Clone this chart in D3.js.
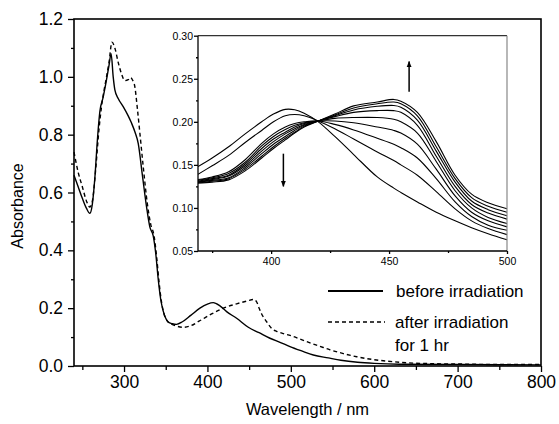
<!DOCTYPE html>
<html><head><meta charset="utf-8">
<script src="https://cdn.jsdelivr.net/npm/d3@7"></script>
<style>body{margin:0;background:#fff}svg{display:block}text{font-family:"Liberation Sans",Arial,sans-serif}</style>
</head><body><svg id="c" width="559" height="424"></svg>
<script>
// Main spectra
const wlBefore = [240,245,250,255,259,262,265,268,271,275,279,282,284.5,287,289,293,299,305,309,313,317,322,327,331,335,338,341,344,347,350,353,358,363,370,380,391,400,407,415,423,435,449,462,475,487,499,513,527,545,560,580,600,630,700,800];
const absBefore = [0.66,0.62,0.58,0.545,0.528,0.56,0.65,0.78,0.88,0.93,0.99,1.04,1.08,1.0,0.955,0.925,0.897,0.865,0.84,0.81,0.77,0.66,0.55,0.48,0.45,0.39,0.30,0.23,0.19,0.165,0.152,0.146,0.144,0.153,0.175,0.20,0.214,0.219,0.208,0.188,0.165,0.134,0.115,0.096,0.082,0.067,0.052,0.038,0.028,0.020,0.013,0.009,0.006,0.005,0.004];
const wlAfter = [240,245,250,255,259,262,266,270,273,279,282,285.5,289,293,297,301,305,308,310,313,316,319,323,328,332,336,339,342,345,348,352,357,363,371,379,390,405,419,435,448,455,459,462,465,471,477,483,490,500,512,523,535,547,563,579,597,615,640,670,700,750,800];
const absAfter = [0.74,0.67,0.62,0.57,0.55,0.57,0.68,0.82,0.897,1.0,1.05,1.12,1.10,1.05,1.01,0.987,0.99,0.998,0.99,0.965,0.89,0.805,0.69,0.56,0.49,0.45,0.38,0.29,0.22,0.18,0.155,0.145,0.138,0.134,0.138,0.155,0.18,0.20,0.215,0.225,0.23,0.222,0.20,0.18,0.153,0.13,0.12,0.113,0.105,0.092,0.080,0.068,0.056,0.043,0.032,0.023,0.017,0.011,0.008,0.007,0.005,0.005];

// Inset spectra (irradiation series)
const insetWl = [369,375,382,389,396,401,406,410,414,420,427,435,445,452,455,462,470,478,485,492,500];
const s0 = [0.148,0.158,0.171,0.186,0.200,0.209,0.2145,0.214,0.210,0.200,0.183,0.162,0.136,0.123,0.118,0.107,0.095,0.085,0.077,0.070,0.063];
const s1 = [0.139,0.149,0.161,0.176,0.190,0.200,0.207,0.2085,0.207,0.201,0.192,0.180,0.165,0.155,0.150,0.138,0.119,0.099,0.085,0.076,0.069];
const s2 = [0.133,0.136,0.142,0.156,0.175,0.186,0.194,0.198,0.200,0.201,0.197,0.1906,0.181,0.174,0.170,0.158,0.134,0.107,0.090,0.080,0.074];
const s3 = [0.132,0.135,0.140,0.153,0.172,0.183,0.191,0.196,0.199,0.201,0.201,0.199,0.194,0.190,0.187,0.174,0.145,0.114,0.095,0.085,0.078];
const s4 = [0.131,0.134,0.138,0.151,0.169,0.180,0.188,0.194,0.198,0.201,0.204,0.205,0.205,0.203,0.200,0.187,0.154,0.120,0.100,0.089,0.082];
const s5 = [0.130,0.133,0.137,0.149,0.166,0.177,0.186,0.192,0.197,0.201,0.206,0.211,0.213,0.213,0.211,0.196,0.160,0.125,0.104,0.094,0.087];
const s6 = [0.130,0.132,0.135,0.147,0.163,0.174,0.183,0.190,0.196,0.201,0.207,0.2138,0.218,0.219,0.217,0.202,0.166,0.130,0.108,0.098,0.091];
const s7 = [0.129,0.131,0.134,0.145,0.160,0.171,0.181,0.188,0.195,0.201,0.208,0.2161,0.221,0.223,0.221,0.207,0.171,0.134,0.112,0.102,0.095];
const s8 = [0.129,0.130,0.1326,0.143,0.158,0.169,0.179,0.187,0.194,0.201,0.209,0.2185,0.223,0.226,0.224,0.211,0.177,0.138,0.116,0.106,0.099];
const insetSeries = [s0,s1,s2,s3,s4,s5,s6,s7,s8];

const xMajor = [300,400,500,600,700,800];
const xMinor = [250,350,450,550,650,750];
const yMajor = [0,0.2,0.4,0.6,0.8,1.0,1.2];
const yMinor = [0.1,0.3,0.5,0.7,0.9,1.1];
const inXMajor = [400,450,500];
const inXMinor = [375,425,475];
const inYMajor = [0.05,0.10,0.15,0.20,0.25,0.30];
const inYMinor = [0.075,0.125,0.175,0.225,0.275];
const legendLabels = ["before irradiation","after irradiation","for 1 hr"];

const svg = d3.select("#c");
const L=74, R=541, T=19, B=366;
const x = d3.scaleLinear().domain([240,800]).range([L,R]);
const y = d3.scaleLinear().domain([0,1.2]).range([B,T]);

function styleAxis(g, fs){
  g.select(".domain").remove();
  g.selectAll("line").attr("stroke","#000").attr("stroke-width",1.3);
  g.selectAll("text").attr("font-size",fs).attr("fill","#000");
}

// main curves
const line = d3.line().x(d=>x(d[0])).y(d=>y(d[1])).curve(d3.curveMonotoneX);
svg.append("path").datum(wlBefore.map((w,i)=>[w,absBefore[i]]))
  .attr("d",line).attr("fill","none").attr("stroke","#000").attr("stroke-width",1.4);
svg.append("path").datum(wlAfter.map((w,i)=>[w,absAfter[i]]))
  .attr("d",line).attr("fill","none").attr("stroke","#000").attr("stroke-width",1.4).attr("stroke-dasharray","4,3");

// main axes
const gx = svg.append("g").attr("transform",`translate(0,${B})`)
  .call(d3.axisBottom(x).tickValues(xMajor).tickSize(6).tickPadding(4).tickFormat(d3.format("d")));
styleAxis(gx,17.5);
const gxm = svg.append("g").attr("transform",`translate(0,${B})`)
  .call(d3.axisBottom(x).tickValues(xMinor).tickSize(4).tickFormat(""));
styleAxis(gxm,17.5);
const gy = svg.append("g").attr("transform",`translate(${L},0)`)
  .call(d3.axisLeft(y).tickValues(yMajor).tickSize(6).tickPadding(5).tickFormat(d3.format(".1f")));
styleAxis(gy,17.5);
const gym = svg.append("g").attr("transform",`translate(${L},0)`)
  .call(d3.axisLeft(y).tickValues(yMinor).tickSize(3).tickFormat(""));
styleAxis(gym,17.5);
svg.append("rect").attr("x",L).attr("y",T).attr("width",R-L).attr("height",B-T)
  .attr("fill","none").attr("stroke","#000").attr("stroke-width",1.6);

svg.append("text").attr("x",(L+R)/2).attr("y",415).attr("text-anchor","middle")
  .attr("font-size",16.5).text("Wavelength / nm");
svg.append("text").attr("transform","translate(23,206) rotate(-90)").attr("text-anchor","middle")
  .attr("font-size",16).text("Absorbance");

// legend
svg.append("line").attr("x1",328).attr("x2",383).attr("y1",291).attr("y2",291).attr("stroke","#000").attr("stroke-width",2);
svg.append("line").attr("x1",328).attr("x2",385).attr("y1",322).attr("y2",322).attr("stroke","#000").attr("stroke-width",1.4).attr("stroke-dasharray","4,3");
svg.append("text").attr("x",396).attr("y",297).attr("font-size",17).text(legendLabels[0]);
svg.append("text").attr("x",395).attr("y",328).attr("font-size",17).text(legendLabels[1]);
svg.append("text").attr("x",395).attr("y",350.5).attr("font-size",17).text(legendLabels[2]);

// inset
const iL=198, iR=507, iT=35.7, iB=251;
const xi = d3.scaleLinear().domain([369,500]).range([iL,iR]);
const yi = d3.scaleLinear().domain([0.05,0.30]).range([iB,iT]);
svg.append("clipPath").attr("id","ic").append("rect").attr("x",iL).attr("y",iT).attr("width",iR-iL+2).attr("height",iB-iT);
const lineI = d3.line().x((d,i)=>xi(insetWl[i])).y(d=>yi(d)).curve(d3.curveCatmullRom.alpha(0.5));
svg.append("g").attr("clip-path","url(#ic)").selectAll("path").data(insetSeries).join("path")
  .attr("d",lineI).attr("fill","none").attr("stroke","#000").attr("stroke-width",1.1);

const gix = svg.append("g").attr("transform",`translate(0,${iB})`)
  .call(d3.axisBottom(xi).tickValues(inXMajor).tickSize(3).tickPadding(4).tickFormat(d3.format("d")));
styleAxis(gix,10.5);
const gixm = svg.append("g").attr("transform",`translate(0,${iB})`)
  .call(d3.axisBottom(xi).tickValues(inXMinor).tickSize(2).tickFormat(""));
styleAxis(gixm,10.5);
const giy = svg.append("g").attr("transform",`translate(${iL},0)`)
  .call(d3.axisLeft(yi).tickValues(inYMajor).tickSize(4).tickPadding(1).tickFormat(d3.format(".2f")));
styleAxis(giy,10.5);
const giym = svg.append("g").attr("transform",`translate(${iL},0)`)
  .call(d3.axisLeft(yi).tickValues(inYMinor).tickSize(2).tickFormat(""));
styleAxis(giym,10.5);
svg.append("line").attr("x1",iL).attr("x2",iR).attr("y1",iT).attr("y2",iT).attr("stroke","#333").attr("stroke-width",1.2);
svg.append("line").attr("x1",iR).attr("x2",iR).attr("y1",iT).attr("y2",iB).attr("stroke","#888").attr("stroke-width",1.2);
svg.append("line").attr("x1",iL).attr("x2",iL).attr("y1",iT).attr("y2",iB).attr("stroke","#000").attr("stroke-width",1.3);
svg.append("line").attr("x1",iL).attr("x2",iR).attr("y1",iB).attr("y2",iB).attr("stroke","#000").attr("stroke-width",1.3);

// arrows
const defs = svg.append("defs");
defs.append("marker").attr("id","ah").attr("viewBox","0 0 10 10").attr("refX",9).attr("refY",5)
  .attr("markerWidth",4).attr("markerHeight",4).attr("orient","auto")
  .append("path").attr("d","M0,1L10,5L0,9Z").attr("fill","#000");
svg.append("line").attr("x1",xi(405.2)).attr("x2",xi(405.2)).attr("y1",yi(0.163)).attr("y2",yi(0.125))
  .attr("stroke","#000").attr("stroke-width",1.5).attr("marker-end","url(#ah)");
svg.append("line").attr("x1",xi(458.5)).attr("x2",xi(458.5)).attr("y1",yi(0.235)).attr("y2",yi(0.270))
  .attr("stroke","#000").attr("stroke-width",1.5).attr("marker-end","url(#ah)");
</script></body></html>
